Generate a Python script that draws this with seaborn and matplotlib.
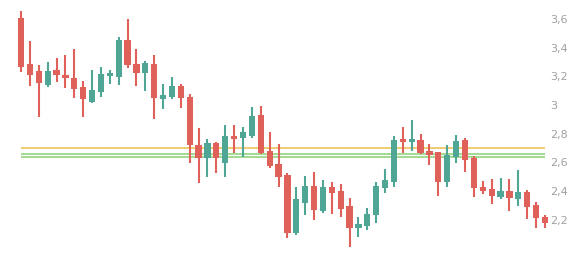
import numpy as np
import pandas as pd
import matplotlib
matplotlib.use("Agg")
import matplotlib.pyplot as plt
import seaborn as sns

opens  = [3.606, 3.286, 3.237, 3.139, 3.244, 3.209, 3.188, 3.125, 3.021, 3.091,
          3.202, 3.195, 3.453, 3.286, 3.223, 3.286, 3.042, 3.056, 3.132, 3.056,
          2.721, 2.631, 2.735, 2.596, 2.784, 2.770, 2.784, 2.930, 2.679, 2.589,
          2.512, 2.108, 2.317, 2.436, 2.261, 2.429, 2.401, 2.296, 2.143, 2.157,
          2.233, 2.422, 2.463, 2.763, 2.742, 2.756, 2.679, 2.673, 2.463, 2.638,
          2.756, 2.631, 2.429, 2.415, 2.359, 2.401, 2.345, 2.394, 2.303, 2.220]
highs  = [3.655, 3.446, 3.279, 3.300, 3.328, 3.348, 3.390, 3.167, 3.244, 3.265,
          3.244, 3.474, 3.599, 3.390, 3.307, 3.348, 3.146, 3.195, 3.146, 3.077,
          2.840, 2.763, 2.742, 2.861, 2.861, 2.847, 2.986, 2.993, 2.812, 2.728,
          2.526, 2.429, 2.505, 2.533, 2.477, 2.463, 2.449, 2.352, 2.220, 2.282,
          2.463, 2.554, 2.784, 2.847, 2.895, 2.798, 2.728, 2.673, 2.721, 2.791,
          2.770, 2.645, 2.470, 2.484, 2.491, 2.484, 2.547, 2.408, 2.324, 2.233]
lows   = [3.230, 3.132, 2.916, 3.125, 3.160, 3.118, 3.049, 2.916, 3.014, 3.056,
          3.146, 3.139, 3.258, 3.132, 3.098, 2.902, 2.972, 3.042, 2.979, 2.596,
          2.456, 2.498, 2.526, 2.498, 2.666, 2.638, 2.770, 2.659, 2.561, 2.429,
          2.073, 2.094, 2.233, 2.199, 2.247, 2.240, 2.220, 2.010, 2.080, 2.129,
          2.178, 2.387, 2.429, 2.666, 2.679, 2.659, 2.582, 2.366, 2.429, 2.596,
          2.533, 2.359, 2.380, 2.310, 2.345, 2.261, 2.296, 2.206, 2.143, 2.143]
closes = [3.265, 3.209, 3.153, 3.237, 3.209, 3.188, 3.111, 3.042, 3.104, 3.216,
          3.223, 3.453, 3.279, 3.223, 3.293, 3.049, 3.070, 3.132, 3.049, 2.721,
          2.631, 2.735, 2.631, 2.784, 2.763, 2.812, 2.923, 2.666, 2.575, 2.498,
          2.108, 2.345, 2.436, 2.268, 2.429, 2.387, 2.275, 2.143, 2.171, 2.240,
          2.436, 2.477, 2.756, 2.742, 2.763, 2.666, 2.652, 2.463, 2.652, 2.749,
          2.617, 2.422, 2.401, 2.366, 2.401, 2.352, 2.394, 2.289, 2.213, 2.178]
levels = [2.700, 2.656, 2.638]
level_colors = ["#eec35a", "#92d47e", "#92d47e"]
ytick_values = [2.2, 2.4, 2.6, 2.8, 3.0, 3.2, 3.4, 3.6]
ytick_labels = ["2,2", "2,4", "2,6", "2,8", "3", "3,2", "3,4", "3,6"]

df = pd.DataFrame({"open": opens, "high": highs, "low": lows, "close": closes})
df["idx"] = np.arange(len(df))
df["up"] = df["close"] >= df["open"]
UP, DOWN = "#4fa694", "#e0605a"
df["color"] = np.where(df["up"], UP, DOWN)
df["lo_body"] = df[["open", "close"]].min(axis=1)
df["hi_body"] = df[["open", "close"]].max(axis=1)

sns.set_theme(style="white")
fig = plt.figure(figsize=(5.84, 2.58), dpi=100)
ax = fig.add_axes([0, 0, 549 / 584, 1])

px = 8.88
ax.set_xlim(-21 / px, (549 - 21) / px)
ax.set_ylim(1.934, 3.732)

for y, c in zip(levels, level_colors):
    ax.hlines(y, 0, len(df) - 1, color=c, lw=1.2, zorder=1)

ax.vlines(df["idx"], df["low"], df["high"], colors=df["color"], lw=1.5, zorder=2)
ax.bar(df["idx"], df["hi_body"] - df["lo_body"], bottom=df["lo_body"],
       width=0.7, color=df["color"], linewidth=0, zorder=3)

sns.despine(ax=ax, left=True, bottom=True, right=True, top=True)
ax.set_xticks([])
ax.yaxis.tick_right()
ax.set_yticks(ytick_values)
ax.set_yticklabels(ytick_labels)
ax.tick_params(axis="y", length=0, pad=1, labelsize=8, labelcolor="#a0a0a0")
ax.grid(False)
ax.set_facecolor("white")

fig.savefig("out.png", dpi=100, facecolor="white")
